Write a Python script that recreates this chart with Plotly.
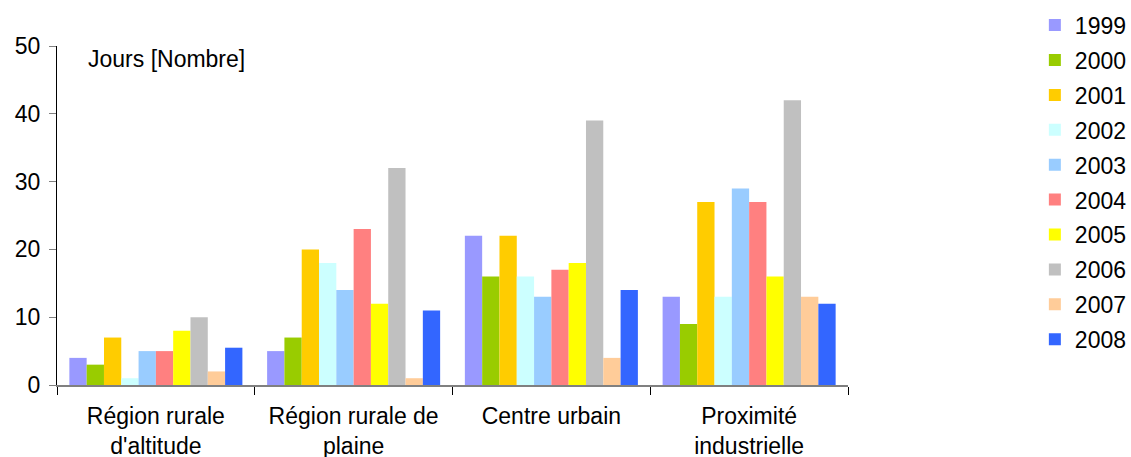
import plotly.graph_objects as go

# categories and yearly values (jours)
categories = ["Région rurale<br>d'altitude", "Région rurale de<br>plaine", "Centre urbain", "Proximité<br>industrielle"]
years = ["1999", "2000", "2001", "2002", "2003", "2004", "2005", "2006", "2007", "2008"]
v1999 = [4, 5, 22, 13]
v2000 = [3, 7, 16, 9]
v2001 = [7, 20, 22, 27]
v2002 = [1, 18, 16, 13]
v2003 = [5, 14, 13, 29]
v2004 = [5, 23, 17, 27]
v2005 = [8, 12, 18, 16]
v2006 = [10, 32, 39, 42]
v2007 = [2, 1, 4, 13]
v2008 = [5.5, 11, 14, 12]
series = [v1999, v2000, v2001, v2002, v2003, v2004, v2005, v2006, v2007, v2008]
colors = ["#9999FF", "#99CC00", "#FFCC00", "#CCFFFF", "#99CCFF",
          "#FF8080", "#FFFF00", "#C0C0C0", "#FFCC99", "#3366FF"]

fig = go.Figure()
for yr, vals, col in zip(years, series, colors):
    fig.add_trace(go.Bar(x=categories, y=vals, name=yr, marker_color=col,
                         marker_line_width=0, legendgroup=yr))

font = dict(family="Liberation Sans, Arial, sans-serif", size=23, color="black")
fig.update_layout(
    width=1131, height=457,
    margin=dict(l=57, r=283, t=46, b=72, autoexpand=False),
    paper_bgcolor="white", plot_bgcolor="white",
    font=font,
    barmode="group", bargap=0.125, bargroupgap=0,
    showlegend=True,
    legend=dict(x=0.915, y=0.992, xref="container", yref="container",
                xanchor="left", yanchor="top", font=font, maxheight=457,
                tracegroupgap=2, traceorder="grouped"),
    xaxis=dict(showline=True, linecolor="#808080", linewidth=2,
               ticks="outside", tickson="boundaries", ticklen=8,
               tickcolor="black", showgrid=False, tickfont=font,
               ticklabelstandoff=9),
    yaxis=dict(range=[0, 50], dtick=10, showline=True, linecolor="black",
               linewidth=1, ticks="outside", ticklen=7, tickcolor="#808080",
               showgrid=False, zeroline=False, tickfont=font,
               ticklabelstandoff=4),
    annotations=[dict(text="Jours [Nombre]", x=0.037, y=48.1, xref="paper", yref="y",
                      xanchor="left", yanchor="middle", showarrow=False, font=font)],
)

# drop the default 8px body margin so the figure fills the window
fig.write_html("out.html", config={"displayModeBar": False},
               post_script="document.body.style.margin='0';")
